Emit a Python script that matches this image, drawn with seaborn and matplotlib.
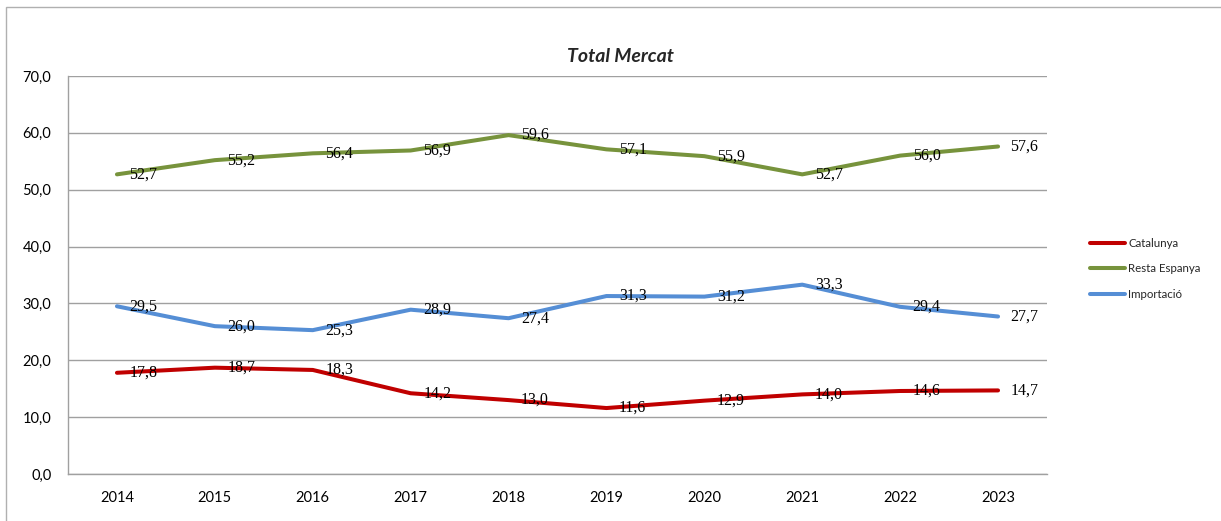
import pandas as pd
import matplotlib.pyplot as plt
import seaborn as sns
from matplotlib.patches import Rectangle
from matplotlib.ticker import FuncFormatter

# -------------------------------
# DATA
# -------------------------------
years = ["2014", "2015", "2016", "2017", "2018", "2019", "2020", "2021", "2022", "2023"]
catalunya = [17.8, 18.7, 18.3, 14.2, 13.0, 11.6, 12.9, 14.0, 14.6, 14.7]
resta_espanya = [52.7, 55.2, 56.4, 56.9, 59.6, 57.1, 55.9, 52.7, 56.0, 57.6]
importacio = [29.5, 26.0, 25.3, 28.9, 27.4, 31.3, 31.2, 33.3, 29.4, 27.7]

series_names = ["Catalunya", "Resta Espanya", "Importació"]
series_values = [catalunya, resta_espanya, importacio]
colors = ["#C00000", "#77933C", "#558ED5"]

rows = []
for name, vals in zip(series_names, series_values):
    for i, (yr, v) in enumerate(zip(years, vals)):
        rows.append({"pos": i, "year": yr, "serie": name, "valor": v})
df = pd.DataFrame(rows)

# -------------------------------
# PLOT
# -------------------------------
sns.set_style("white")
plt.rcParams["font.family"] = ["Lato", "DejaVu Sans"]

fig = plt.figure(figsize=(12.21, 5.21), dpi=100)
ax = fig.add_axes([68 / 1221, 1 - 474 / 521, (1047 - 68) / 1221, (474 - 76) / 521])

sns.lineplot(data=df, x="pos", y="valor", hue="serie", hue_order=series_names,
             palette=colors, linewidth=2.9, ax=ax, legend=True)

# value labels
for name, vals in zip(series_names, series_values):
    for i, v in enumerate(vals):
        ax.annotate(f"{v:.1f}".replace(".", ","), (i, v), xytext=(9, 0),
                    textcoords="offset points", ha="left", va="center",
                    fontsize=11.5, family=["Liberation Serif", "DejaVu Serif"],
                    color="black", zorder=5)

ax.set_xlim(-0.5, len(years) - 0.5)
ax.set_ylim(0, 70)
ax.set_yticks(range(0, 71, 10))
ax.yaxis.set_major_formatter(FuncFormatter(lambda v, p: f"{v:.1f}".replace(".", ",")))
ax.set_xticks(range(len(years)))
ax.set_xticklabels(years)
ax.tick_params(axis="both", labelsize=10.5, length=0, colors="black")
ax.tick_params(axis="y", pad=12)
ax.tick_params(axis="x", pad=12)
ax.set_xlabel("")
ax.set_ylabel("")

ax.grid(axis="y", color="#a0a0a0", linewidth=1)
ax.set_axisbelow(True)
for side in ["top", "right"]:
    ax.spines[side].set_visible(False)
for side in ["left", "bottom"]:
    ax.spines[side].set_color("#a0a0a0")
    ax.spines[side].set_linewidth(1)

leg = ax.legend(loc="center left", bbox_to_anchor=(1080 / 1221, 1 - 269 / 521),
                bbox_transform=fig.transFigure, frameon=False, fontsize=8.3,
                handlelength=3.0, handletextpad=0.3, labelspacing=1.25)
for line in leg.get_lines():
    line.set_linewidth(2.9)

fig.text(620 / 1221, 1 - 57 / 521, "Total Mercat", ha="center", va="center",
         fontsize=14, fontweight="bold", fontstyle="italic")

# outer border
fig.patches.append(Rectangle((6 / 1221, -0.1), 1.2, 1.1 - 7 / 521, transform=fig.transFigure,
                             fill=False, edgecolor="#b0b0b0", linewidth=1))

fig.savefig("out.png", dpi=100)
